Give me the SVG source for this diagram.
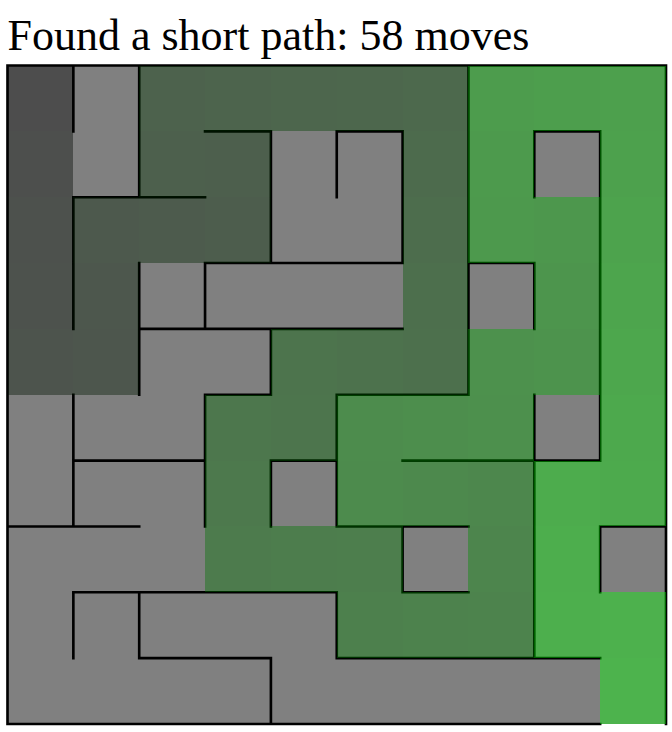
<svg xmlns="http://www.w3.org/2000/svg" width="672" height="732" viewBox="0 0 672 732">
<style>
.title{font-family:"Liberation Serif","Times New Roman",serif;font-size:44px;fill:#000}
.bg{fill:#808080}
.p{fill-opacity:0.4;shape-rendering:crispEdges}
.wall{fill:none;stroke:#000;stroke-width:0.04;stroke-linecap:square}
</style>
<rect width="672" height="732" fill="#fff"/>
<text id="title" class="title" x="7.5" y="50">Found a short path: 58 moves</text>
<g id="maze" transform="translate(7.5 65.5) scale(65.85)">
<rect id="cells" class="bg" x="0" y="0" width="10" height="10"/>
<path id="walls" class="wall" d="M0 0H10 M0 0V10 M10 0V10 M0 10H9
M1 0V1 M1 2V4 M1 5V7 M1 8V9
M2 0V2 M2 3V5 M2 8V9
M3 3V4 M3 5V7
M4 1V3 M4 4V5 M4 6V7 M4 9V10
M5 1V2 M5 5V7 M5 8V9
M6 1V3 M6 7V8
M7 0V5
M8 1V2 M8 3V4 M8 5V9
M9 1V6 M9 7V8
M3 1H4 M5 1H6 M8 1H9
M1 2H3
M3 3H6 M7 3H8
M2 4H6
M3 5H4 M5 5H7
M1 6H3 M4 6H5 M6 6H9
M0 7H2 M5 7H7 M9 7H10
M1 8H5 M6 8H7
M2 9H4 M5 9H9"/>
<g id="path">
<rect class="p" x="0" y="0" width="1" height="1" fill="rgb(0,0,0)"/>
<rect class="p" x="0" y="1" width="1" height="1" fill="rgb(0,4,0)"/>
<rect class="p" x="0" y="2" width="1" height="1" fill="rgb(0,9,0)"/>
<rect class="p" x="0" y="3" width="1" height="1" fill="rgb(0,13,0)"/>
<rect class="p" x="0" y="4" width="1" height="1" fill="rgb(0,18,0)"/>
<rect class="p" x="1" y="4" width="1" height="1" fill="rgb(0,22,0)"/>
<rect class="p" x="1" y="3" width="1" height="1" fill="rgb(0,26,0)"/>
<rect class="p" x="1" y="2" width="1" height="1" fill="rgb(0,31,0)"/>
<rect class="p" x="2" y="2" width="1" height="1" fill="rgb(0,35,0)"/>
<rect class="p" x="3" y="2" width="1" height="1" fill="rgb(0,40,0)"/>
<rect class="p" x="3" y="1" width="1" height="1" fill="rgb(0,44,0)"/>
<rect class="p" x="2" y="1" width="1" height="1" fill="rgb(0,48,0)"/>
<rect class="p" x="2" y="0" width="1" height="1" fill="rgb(0,53,0)"/>
<rect class="p" x="3" y="0" width="1" height="1" fill="rgb(0,57,0)"/>
<rect class="p" x="4" y="0" width="1" height="1" fill="rgb(0,62,0)"/>
<rect class="p" x="5" y="0" width="1" height="1" fill="rgb(0,66,0)"/>
<rect class="p" x="6" y="0" width="1" height="1" fill="rgb(0,70,0)"/>
<rect class="p" x="6" y="1" width="1" height="1" fill="rgb(0,75,0)"/>
<rect class="p" x="6" y="2" width="1" height="1" fill="rgb(0,79,0)"/>
<rect class="p" x="6" y="3" width="1" height="1" fill="rgb(0,84,0)"/>
<rect class="p" x="6" y="4" width="1" height="1" fill="rgb(0,88,0)"/>
<rect class="p" x="5" y="4" width="1" height="1" fill="rgb(0,92,0)"/>
<rect class="p" x="4" y="4" width="1" height="1" fill="rgb(0,97,0)"/>
<rect class="p" x="4" y="5" width="1" height="1" fill="rgb(0,101,0)"/>
<rect class="p" x="3" y="5" width="1" height="1" fill="rgb(0,106,0)"/>
<rect class="p" x="3" y="6" width="1" height="1" fill="rgb(0,110,0)"/>
<rect class="p" x="3" y="7" width="1" height="1" fill="rgb(0,114,0)"/>
<rect class="p" x="4" y="7" width="1" height="1" fill="rgb(0,119,0)"/>
<rect class="p" x="5" y="7" width="1" height="1" fill="rgb(0,123,0)"/>
<rect class="p" x="5" y="8" width="1" height="1" fill="rgb(0,128,0)"/>
<rect class="p" x="6" y="8" width="1" height="1" fill="rgb(0,132,0)"/>
<rect class="p" x="7" y="8" width="1" height="1" fill="rgb(0,136,0)"/>
<rect class="p" x="7" y="7" width="1" height="1" fill="rgb(0,141,0)"/>
<rect class="p" x="7" y="6" width="1" height="1" fill="rgb(0,145,0)"/>
<rect class="p" x="6" y="6" width="1" height="1" fill="rgb(0,150,0)"/>
<rect class="p" x="5" y="6" width="1" height="1" fill="rgb(0,154,0)"/>
<rect class="p" x="5" y="5" width="1" height="1" fill="rgb(0,158,0)"/>
<rect class="p" x="6" y="5" width="1" height="1" fill="rgb(0,163,0)"/>
<rect class="p" x="7" y="5" width="1" height="1" fill="rgb(0,167,0)"/>
<rect class="p" x="7" y="4" width="1" height="1" fill="rgb(0,171,0)"/>
<rect class="p" x="8" y="4" width="1" height="1" fill="rgb(0,176,0)"/>
<rect class="p" x="8" y="3" width="1" height="1" fill="rgb(0,180,0)"/>
<rect class="p" x="8" y="2" width="1" height="1" fill="rgb(0,185,0)"/>
<rect class="p" x="7" y="2" width="1" height="1" fill="rgb(0,189,0)"/>
<rect class="p" x="7" y="1" width="1" height="1" fill="rgb(0,193,0)"/>
<rect class="p" x="7" y="0" width="1" height="1" fill="rgb(0,198,0)"/>
<rect class="p" x="8" y="0" width="1" height="1" fill="rgb(0,202,0)"/>
<rect class="p" x="9" y="0" width="1" height="1" fill="rgb(0,207,0)"/>
<rect class="p" x="9" y="1" width="1" height="1" fill="rgb(0,211,0)"/>
<rect class="p" x="9" y="2" width="1" height="1" fill="rgb(0,215,0)"/>
<rect class="p" x="9" y="3" width="1" height="1" fill="rgb(0,220,0)"/>
<rect class="p" x="9" y="4" width="1" height="1" fill="rgb(0,224,0)"/>
<rect class="p" x="9" y="5" width="1" height="1" fill="rgb(0,229,0)"/>
<rect class="p" x="9" y="6" width="1" height="1" fill="rgb(0,233,0)"/>
<rect class="p" x="8" y="6" width="1" height="1" fill="rgb(0,237,0)"/>
<rect class="p" x="8" y="7" width="1" height="1" fill="rgb(0,242,0)"/>
<rect class="p" x="8" y="8" width="1" height="1" fill="rgb(0,246,0)"/>
<rect class="p" x="9" y="8" width="1" height="1" fill="rgb(0,251,0)"/>
<rect class="p" x="9" y="9" width="1" height="1" fill="rgb(0,255,0)"/>
</g>
</g>
</svg>
